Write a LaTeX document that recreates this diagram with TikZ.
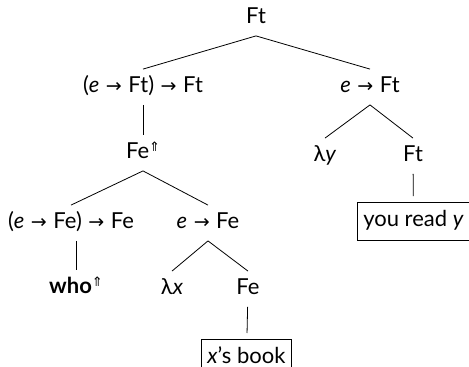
\documentclass[tikz,border=0pt]{standalone}
\usepackage{fontspec}
\setmainfont{Lato}
\newfontfamily\arrowfont{DejaVu Sans}
\usetikzlibrary{positioning}
\newcommand{\ar}{\hspace{6.5pt}{\arrowfont\fontsize{19}{22}\selectfont→}\hspace{6.5pt}}
\newcommand{\lift}{\raisebox{7pt}{\arrowfont\fontsize{13}{13}\selectfont ⇑}}

\begin{document}
\begin{tikzpicture}[x=1pt, y=-1pt, line width=0.8pt,
  lbl/.style={font=\fontsize{22}{26}\selectfont, inner xsep=2pt, inner ysep=7pt, text height=16pt, text depth=5pt},
  leaf/.style={lbl, draw, inner xsep=6pt, inner ysep=0pt, minimum height=38pt, outer sep=6pt}]
\useasboundingbox (0,0) rectangle (469,367);
\node[lbl] (root) at (256,18) {Ft};
\node[lbl] (qa) at (143,87) {(\textit{e}\ar Ft)\ar Ft};
\node[lbl] (pb) at (370,87) {\textit{e}\ar Ft};
\node[lbl] (fe) at (143,153) {Fe\lift};
\node[lbl] (ly) at (325,156) {λ\textit{y}};
\node[lbl] (ft) at (413,156) {Ft};
\node[leaf] (yr) at (413.5,221) {you read \textit{y}};
\node[lbl] (qe) at (71,223) {(\textit{e}\ar Fe)\ar Fe};
\node[lbl] (pe) at (208,223) {\textit{e}\ar Fe};
\node[lbl] (who) at (76,288) {\textbf{who}\lift};
\node[lbl] (lx) at (172,289) {λ\textit{x}};
\node[lbl] (fe2) at (248,289) {Fe};
\node[leaf] (xb) at (246.5,358) {\textit{x}’s book};
\draw (root.south)--(qa.north); \draw (root.south)--(pb.north);
\draw (qa)--(fe); \draw (pb.south)--(ly.north); \draw (pb.south)--(ft.north);
\draw (ft)--(yr);
\draw (fe.south)--(qe.north); \draw (fe.south)--(pe.north);
\draw (qe.south -| who)--(who.north);
\draw (pe.south)--(lx.north); \draw (pe.south)--(fe2.north);
\draw (fe2)--(xb);
\end{tikzpicture}
\end{document}
